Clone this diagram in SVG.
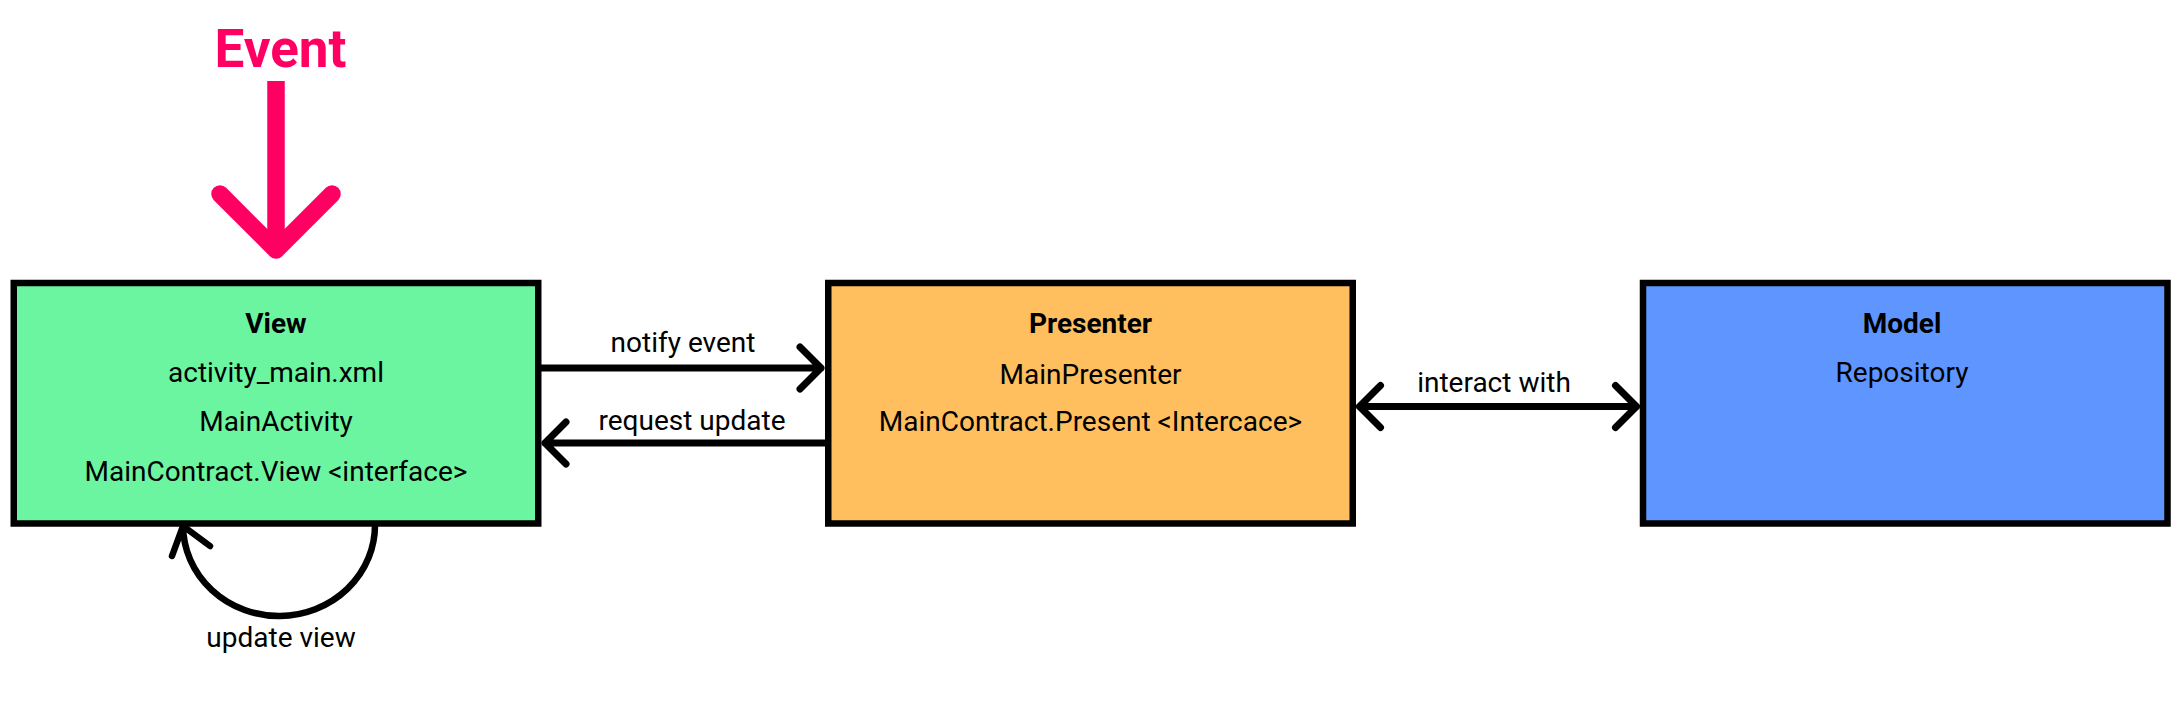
<svg xmlns="http://www.w3.org/2000/svg" width="2178" height="714" viewBox="0 0 2178 714">
<style>
.box{stroke:#000;stroke-width:6.5}
.t{font-family:Roboto,"Liberation Sans",sans-serif;font-size:28px;fill:#000;text-anchor:middle}
.b{font-weight:bold}
.c{fill:none;stroke:#000;stroke-width:7;stroke-linecap:round;stroke-linejoin:round}
.ev{fill:none;stroke:#FF0062;stroke-width:17.5;stroke-linejoin:round}
</style>
<rect width="2178" height="714" fill="#fff"/>
<g id="event">
<text x="280.5" y="67" style="font-family:Roboto,'Liberation Sans',sans-serif;font-size:53px;font-weight:bold;fill:#FF0062;text-anchor:middle">Event</text>
<line class="ev" x1="276" y1="81" x2="276" y2="250"/>
<polyline class="ev" points="220,194 276,250 332,194" style="stroke-linecap:round"/>
</g>
<g id="connectors">
<path class="c" d="M541 368 H821 M800 347 L821 368 L800 389"/>
<path class="c" d="M825 443 H545 M566 422 L545 443 L566 464"/>
<path class="c" d="M1359.5 406.5 H1636.5 M1380.5 385.5 L1359.5 406.5 L1380.5 427.5 M1615.5 385.5 L1636.5 406.5 L1615.5 427.5"/>
<path class="c" style="stroke-width:6.5" d="M375 524 A96 91 0 0 1 183 526 M172 556 L183 526 L210 546"/>
<text class="t" x="683" y="352">notify event</text>
<text class="t" x="692" y="430">request update</text>
<text class="t" x="1494" y="392">interact with</text>
<text class="t" x="281" y="647">update view</text>
</g>
<g id="view">
<rect class="box" x="13.75" y="283" width="524.5" height="240.5" fill="#6CF5A0"/>
<text class="t b" x="276" y="333">View</text>
<text class="t" x="276" y="382">activity_main.xml</text>
<text class="t" x="276" y="431">MainActivity</text>
<text class="t" x="276" y="481">MainContract.View &lt;interface&gt;</text>
</g>
<g id="presenter">
<rect class="box" x="828.25" y="283" width="524.5" height="240.5" fill="#FFBF5F"/>
<text class="t b" x="1090.5" y="333">Presenter</text>
<text class="t" x="1090.5" y="384">MainPresenter</text>
<text class="t" x="1090.5" y="431">MainContract.Present &lt;Intercace&gt;</text>
</g>
<g id="model">
<rect class="box" x="1643" y="283" width="524.5" height="240.5" fill="#5F95FF"/>
<text class="t b" x="1902" y="333">Model</text>
<text class="t" x="1902" y="382">Repository</text>
</g>
</svg>
